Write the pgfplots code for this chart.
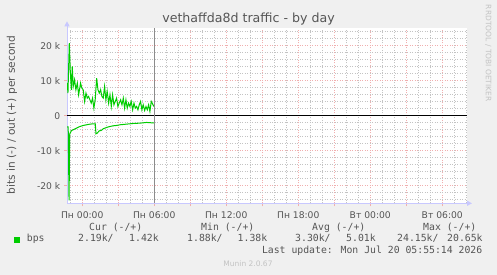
\documentclass[border=0pt]{standalone}
\usepackage{fontspec}
\setmainfont{DejaVu Sans}
\newfontfamily\monofont{DejaVu Sans Mono}
\usepackage{pgfplots}
\pgfplotsset{compat=1.18}
\usetikzlibrary{arrows.meta}
\definecolor{bgc}{RGB}{240,240,240}
\definecolor{txt}{RGB}{85,85,85}
\definecolor{mgrid}{RGB}{240,175,175}
\definecolor{sgrid}{RGB}{195,195,195}
\definecolor{axc}{RGB}{200,200,255}
\definecolor{grn}{RGB}{0,204,0}
\definecolor{faint}{RGB}{195,195,195}
\definecolor{vline}{RGB}{140,140,140}
\begin{document}
\begin{tikzpicture}[x=1pt,y=1pt]
\fill[bgc] (0,0) rectangle (497,275);
\begin{axis}[
  at={(67pt,71.7pt)}, anchor=south west,
  width=400pt, height=175pt, scale only axis,
  xmin=-1.27, xmax=32.06, ymin=-25, ymax=25,
  axis background/.style={fill=white},
  axis x line*=bottom, axis y line*=left,
  x axis line style={draw=axc, line width=0.9pt, -{Triangle[length=5pt,width=5pt]}, shorten >=-5pt},
  y axis line style={draw=axc, line width=0.9pt, -{Triangle[length=5pt,width=5pt]}, shorten >=-7pt},
  xtick={0,3,...,30},
  xticklabels={Пн 00:00,,Пн 06:00,,Пн 12:00,,Пн 18:00,,Вт 00:00,,Вт 06:00},
  minor xtick={-1,1,2,4,5,7,8,10,11,13,14,16,17,19,20,22,23,25,26,28,29,31,32},
  ytick={-20,-10,0,10,20},
  yticklabels={-20 k,-10 k,0,10 k,20 k},
  minor ytick={-24,-22,-18,-16,-14,-12,-8,-6,-4,-2,2,4,6,8,12,14,16,18,22,24},
  grid=both,
  major grid style={mgrid, dash pattern=on 1pt off 1.5pt, line width=0.7pt},
  minor grid style={sgrid, dash pattern=on 1pt off 1.5pt, line width=0.6pt},
  tick align=outside, major tick length=3pt, minor tick length=0pt,
  major tick style={mgrid, line width=0.8pt},
  tick label style={font=\fontsize{9.2}{11}\selectfont, text=txt},
  xticklabel style={anchor=base, yshift=-12.7pt, inner sep=0pt},
  yticklabel style={anchor=east, inner sep=0pt, xshift=-3.5pt},
  clip mode=individual,
]
\addplot[grn, line width=1pt] coordinates {
(-1.25,9.33) (-1.19,6.48) (-1.08,20.76) (-1.00,13.1) (-0.91,7.43) (-0.83,14.1)
(-0.75,8.38) (-0.64,10.3) (-0.53,7.43) (-0.41,9.33) (-0.30,6.0) (-0.14,9.33)
(-0.03,7.9) (0.08,7.43) (0.20,4.1) (0.31,6.48) (0.42,5.05) (0.53,5.52)
(0.64,4.57) (0.75,3.62) (0.86,5.05) (0.97,2.19) (1.08,4.57) (1.20,10.76)
(1.31,7.43) (1.42,6.48) (1.53,7.43) (1.64,5.52) (1.75,5.05) (1.86,8.38)
(1.97,4.57) (2.08,6.95) (2.20,3.62) (2.31,6.0) (2.42,2.67) (2.53,6.0)
(2.64,3.14) (2.75,4.1) (2.86,5.05) (2.97,2.67) (3.08,3.62) (3.20,4.57)
(3.31,3.14) (3.42,5.05) (3.53,2.19) (3.64,4.57) (3.75,2.19) (3.86,3.62)
(3.97,2.67) (4.08,4.1) (4.20,1.71) (4.31,3.62) (4.42,2.19) (4.53,2.67)
(4.64,1.71) (4.75,3.14) (4.86,4.1) (4.97,1.71) (5.08,3.14) (5.20,1.52)
(5.31,2.67) (5.42,1.71) (5.53,3.14) (5.64,1.24) (5.75,4.1) (5.86,3.43)
(5.97,2.67)
};
\addplot[grn, line width=1pt] coordinates {
(-1.25,-3.2) (-1.17,-3.2) (-1.10,-24.15) (-1.04,-5.0) (-1.00,-4.95)
(-0.89,-4.19) (-0.75,-4.0) (-0.47,-3.5) (-0.19,-3.05) (0.08,-2.76)
(0.36,-2.57) (0.64,-2.38) (0.92,-2.29) (1.09,-2.29) (1.14,-5.14)
(1.25,-4.95) (1.42,-4.29) (1.58,-4.19) (1.75,-3.71) (2.03,-3.33)
(2.31,-3.05) (2.58,-2.86) (2.86,-2.76) (3.14,-2.57) (3.69,-2.38)
(4.25,-2.19) (4.81,-2.1) (5.36,-1.9) (5.97,-2.05)
};
\addplot[black, line width=1pt] coordinates {(-1.27,0) (32.06,0)};
\addplot[vline, line width=0.9pt] coordinates {(6,-25) (6,25)};
\end{axis}
\node[font=\fontsize{12.6}{14}\selectfont, text=txt] at (248.5,256) {vethaffda8d traffic - by day};
\node[rotate=90, font=\fontsize{10.6}{12}\selectfont, text=txt] at (12,160) {bits in (-) / out (+) per second};
\node[rotate=-90, font=\fontsize{7.5}{9}\selectfont, text=faint] at (488.3,221.7) {RRDTOOL / TOBI OETIKER};
\fill[grn] (14,32) rectangle (20,38);
\begin{scope}[every node/.style={font=\monofont\fontsize{9.8}{11}\selectfont, text=txt, inner sep=0pt, anchor=base west}]
\node at (26.7,33) {bps};
\node at (89,44) {Cur (-/+)};
\node at (201,44) {Min (-/+)};
\node at (312,44) {Avg (-/+)};
\node at (423,44) {Max (-/+)};
\node at (78,33) {2.19k/};
\node at (129,33) {1.42k};
\node at (187,33) {1.88k/};
\node at (237.5,33) {1.38k};
\node at (295,33) {3.30k/};
\node at (346,33) {5.01k};
\node at (397,33) {24.15k/};
\node at (447,33) {20.65k};
\node[anchor=base east] at (482.5,21) {Last update: Mon Jul 20 05:55:14 2026};
\end{scope}
\node[font=\fontsize{7.5}{9}\selectfont, text=faint, anchor=base] at (248,8) {Munin 2.0.67};
\end{tikzpicture}
\end{document}
